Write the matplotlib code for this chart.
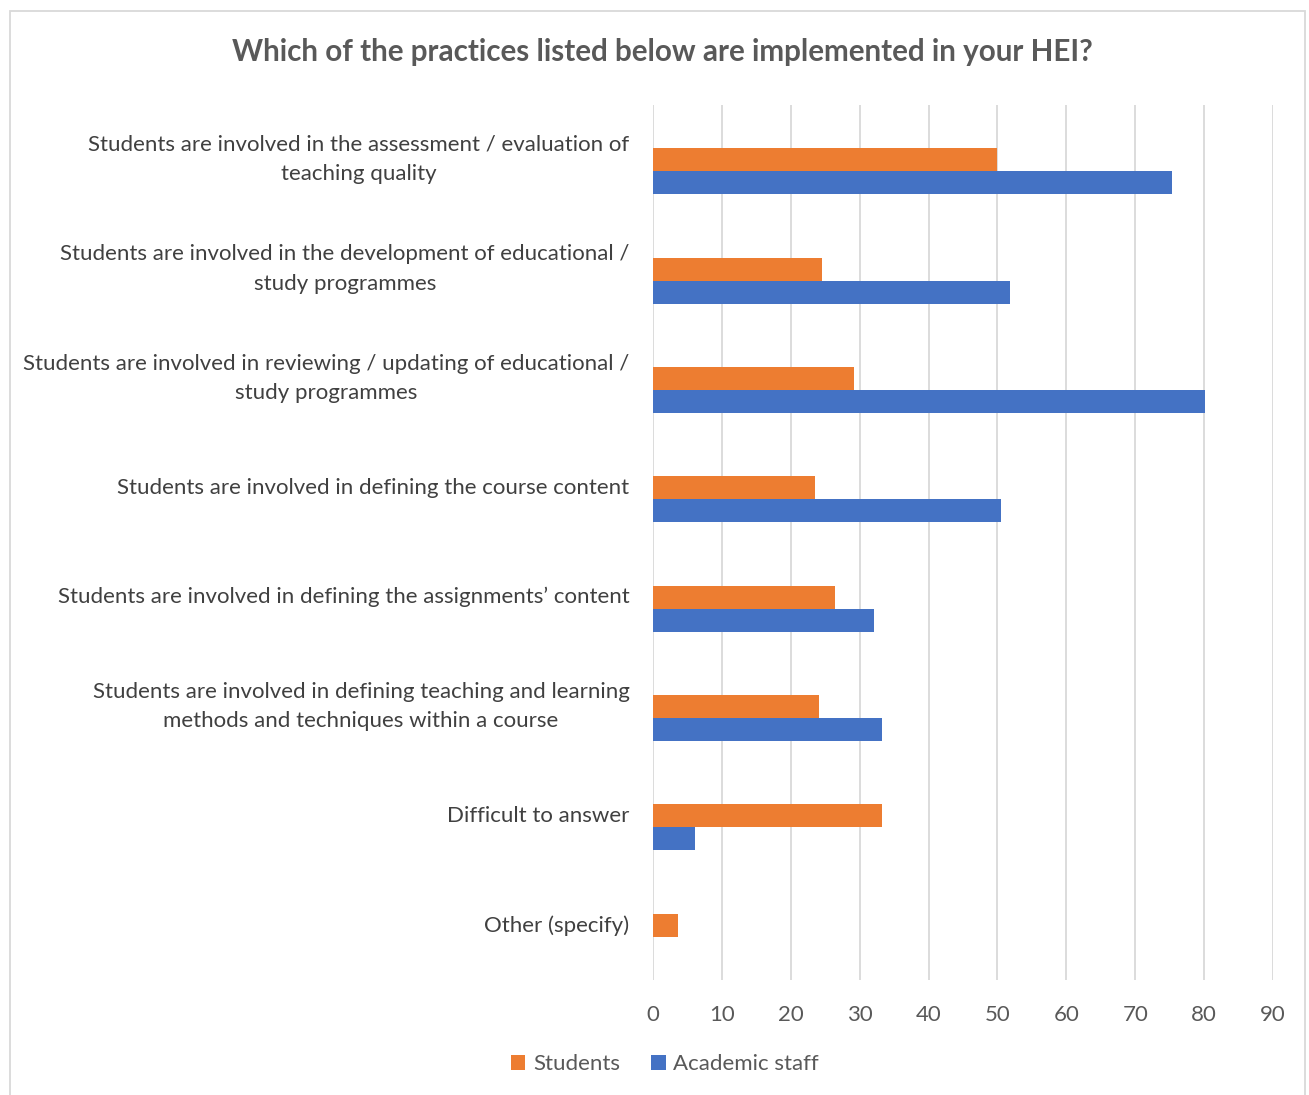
import numpy as np
import matplotlib.pyplot as plt
from matplotlib.patches import Rectangle

plt.rcParams['font.family'] = ['Lato', 'DejaVu Sans']

categories = [
    'Students are involved in the assessment / evaluation of\nteaching quality',
    'Students are involved in the development of educational /\nstudy programmes',
    'Students are involved in reviewing / updating of educational /\nstudy programmes',
    'Students are involved in defining the course content',
    'Students are involved in defining the assignments\u2019 content',
    'Students are involved in defining teaching and learning\nmethods and techniques within a course',
    'Difficult to answer',
    'Other (specify)',
]
students = [50.0, 24.5, 29.2, 23.5, 26.4, 24.1, 33.2, 3.6]
academic = [75.3, 51.8, 80.1, 50.5, 32.1, 33.2, 6.1, 0.0]

fig = plt.figure(figsize=(13.09, 10.95), dpi=100)
ax = fig.add_axes([653/1309, 1 - 980/1095, 620/1309, 875/1095])

y = np.arange(len(categories))
h = 0.21
ax.barh(y, students, height=h, color='#ED7D31', label='Students', zorder=3)
ax.barh(y + h, academic, height=h, color='#4472C4', label='Academic staff', zorder=3)

ax.set_ylim(len(categories) - 0.5, -0.5)
ax.set_xlim(0, 90)
ax.set_xticks(np.arange(0, 91, 10))
ax.set_yticks(y)
ax.set_yticklabels(categories, fontsize=16, color='#404040', ha='right', va='center',
                   multialignment='center', linespacing=1.6)
ax.tick_params(axis='x', labelsize=16, colors='#595959', length=0, pad=18)
ax.tick_params(axis='y', length=0, pad=17)
ax.grid(axis='x', color='#D9D9D9', linewidth=1.3, zorder=0)
for s in ax.spines.values():
    s.set_visible(False)

fig.text(662/1309, 1 - 52/1095, 'Which of the practices listed below are implemented in your HEI?',
         ha='center', va='center', fontsize=21.3, fontweight='bold', color='#595959')

fig.legend(loc='center', bbox_to_anchor=(665/1309, 1 - 1064/1095), ncol=2, frameon=False,
           fontsize=16, handlelength=0.65, handleheight=0.65, handletextpad=0.35,
           columnspacing=1.4, labelcolor='#595959')

fig.patches.append(Rectangle((10/1309, -0.01), 1295/1309, 1.01 - 11/1095, transform=fig.transFigure,
                             fill=False, edgecolor='#D9D9D9', linewidth=1.3))

fig.savefig('out.png', dpi=100)
